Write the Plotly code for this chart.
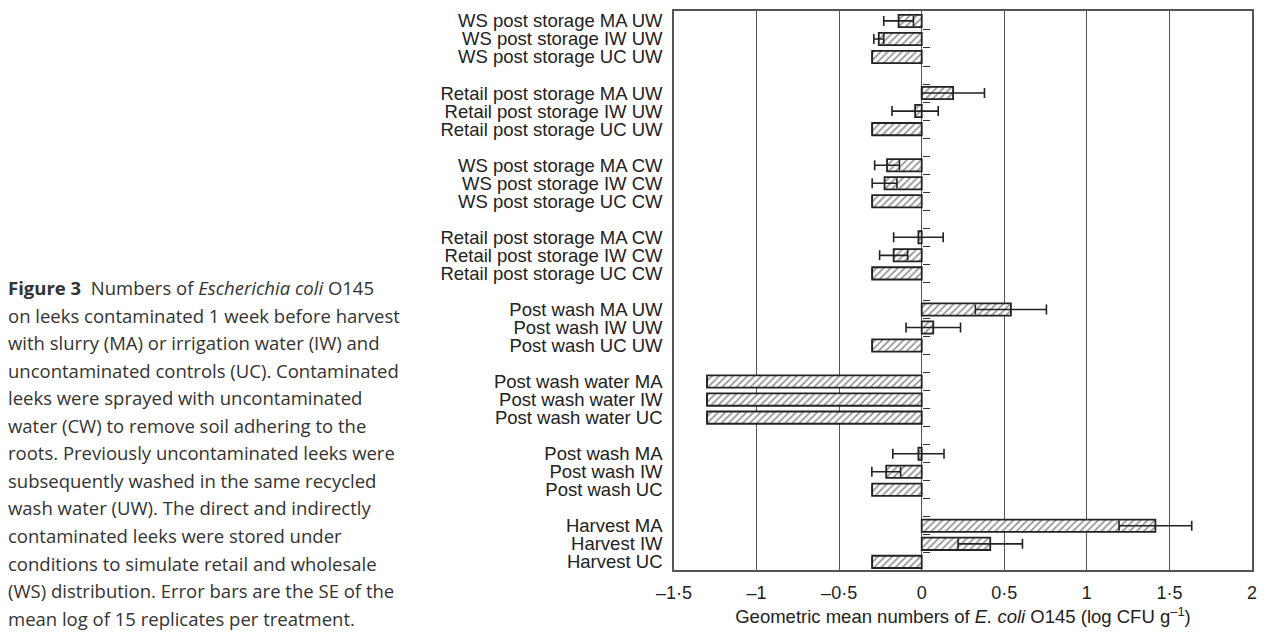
import plotly.graph_objects as go

# ---------------- data ----------------
labels = [
    "WS post storage MA UW", "WS post storage IW UW", "WS post storage UC UW",
    "Retail post storage MA UW", "Retail post storage IW UW", "Retail post storage UC UW",
    "WS post storage MA CW", "WS post storage IW CW", "WS post storage UC CW",
    "Retail post storage MA CW", "Retail post storage IW CW", "Retail post storage UC CW",
    "Post wash MA UW", "Post wash IW UW", "Post wash UC UW",
    "Post wash water MA", "Post wash water IW", "Post wash water UC",
    "Post wash MA", "Post wash IW", "Post wash UC",
    "Harvest MA", "Harvest IW", "Harvest UC",
]
values = [
    -0.14, -0.26, -0.30,
    0.19, -0.04, -0.30,
    -0.21, -0.225, -0.30,
    -0.02, -0.17, -0.30,
    0.54, 0.07, -0.30,
    -1.30, -1.30, -1.30,
    -0.02, -0.215, -0.30,
    1.415, 0.415, -0.30,
]
se = [
    0.09, 0.03, 0.0,
    0.19, 0.14, 0.0,
    0.075, 0.075, 0.0,
    0.15, 0.085, 0.0,
    0.215, 0.165, 0.0,
    0.0, 0.0, 0.0,
    0.155, 0.087, 0.0,
    0.22, 0.195, 0.0,
]
group_size = 3
x_tickvals = [-1.5, -1, -0.5, 0, 0.5, 1, 1.5, 2]
x_ticktext = ["\u20131\u00b75", "\u20131", "\u20130\u00b75", "0", "0\u00b75", "1", "1\u00b75", "2"]

caption_lines = [
    "<b>Figure 3</b>  Numbers of <i>Escherichia coli</i> O145",
    "on leeks contaminated 1 week before harvest",
    "with slurry (MA) or irrigation water (IW) and",
    "uncontaminated controls (UC). Contaminated",
    "leeks were sprayed with uncontaminated",
    "water (CW) to remove soil adhering to the",
    "roots. Previously uncontaminated leeks were",
    "subsequently washed in the same recycled",
    "wash water (UW). The direct and indirectly",
    "contaminated leeks were stored under",
    "conditions to simulate retail and wholesale",
    "(WS) distribution. Error bars are the SE of the",
    "mean log of 15 replicates per treatment.",
]

# positions: groups of three separated by one empty slot
ypos = [(i // group_size) * (group_size + 1) + i % group_size for i in range(len(labels))]
n_slots = ypos[-1] + 1
boundaries = [k - 0.5 for k in range(n_slots)]

W, H = 1266, 633
ml, mr, mt, mb = 674, 9, 10, 61
pw, ph = W - ml - mr, H - mt - mb

text_col = "#222222"
line_col = "#555555"

fig = go.Figure()
fig.add_trace(go.Bar(
    x=values, y=ypos, orientation="h", width=0.68,
    marker=dict(color="white", line=dict(color="#222222", width=1.8),
                pattern=dict(shape="/", fgcolor="#333333", bgcolor="white", size=5, solidity=0.35)),
    error_x=dict(type="data", array=se, visible=True, color="#222222", thickness=1.6, width=5),
    showlegend=False, hoverinfo="skip",
))
# invisible trace for the zero-line tick axis
fig.add_trace(go.Scatter(x=[0] * len(boundaries), y=boundaries, yaxis="y2", mode="markers",
                         marker=dict(opacity=0), showlegend=False, hoverinfo="skip"))

xmin, xmax = x_tickvals[0], x_tickvals[-1]
fig.update_layout(
    width=W, height=H,
    margin=dict(l=ml, r=mr, t=mt, b=mb),
    paper_bgcolor="white", plot_bgcolor="white",
    font=dict(family="Liberation Sans, Arial, sans-serif", size=18, color=text_col),
    xaxis=dict(range=[xmin, xmax], tickvals=x_tickvals, ticktext=x_ticktext,
               showgrid=True, gridcolor=line_col, gridwidth=1.3,
               zeroline=True, zerolinecolor=line_col, zerolinewidth=1.3,
               showline=True, linecolor=line_col, linewidth=1.5, mirror=True,
               ticks="", ticklabelstandoff=6, tickfont=dict(size=18),
               title=dict(text="Geometric mean numbers of <i>E. coli</i> O145 (log CFU g<sup>\u20131</sup>)",
                          font=dict(size=18.5), standoff=8)),
    yaxis=dict(range=[n_slots - 0.55, -0.55], tickvals=ypos, ticktext=labels,
               showgrid=False, zeroline=False, showline=True, linecolor=line_col,
               linewidth=1.5, mirror=True, ticks="", ticklabelstandoff=6,
               tickfont=dict(size=18.5)),
    yaxis2=dict(overlaying="y", matches="y", anchor="free",
                position=(0 - xmin) / (xmax - xmin), side="left",
                tickvals=boundaries, ticks="inside", ticklen=7, tickwidth=1.3,
                tickcolor="#333333", showticklabels=False, showgrid=False,
                zeroline=False, showline=False),
    bargap=0.3,
)

line_step = 27.7
first_center = 288.0
for i, line in enumerate(caption_lines):
    ypix = first_center + i * line_step
    fig.add_annotation(
        text=line, xref="paper", yref="paper",
        x=(0 - ml) / pw, y=(H - mb - ypix) / ph,
        xanchor="left", yanchor="middle", showarrow=False, align="left",
        font=dict(family="Open Sans, Noto Sans, sans-serif", size=18.5, color="#333333"),
    )

fig.write_html("out.html", config={"displayModeBar": False},
               post_script="document.body.style.margin='0';document.body.style.overflow='hidden';")
